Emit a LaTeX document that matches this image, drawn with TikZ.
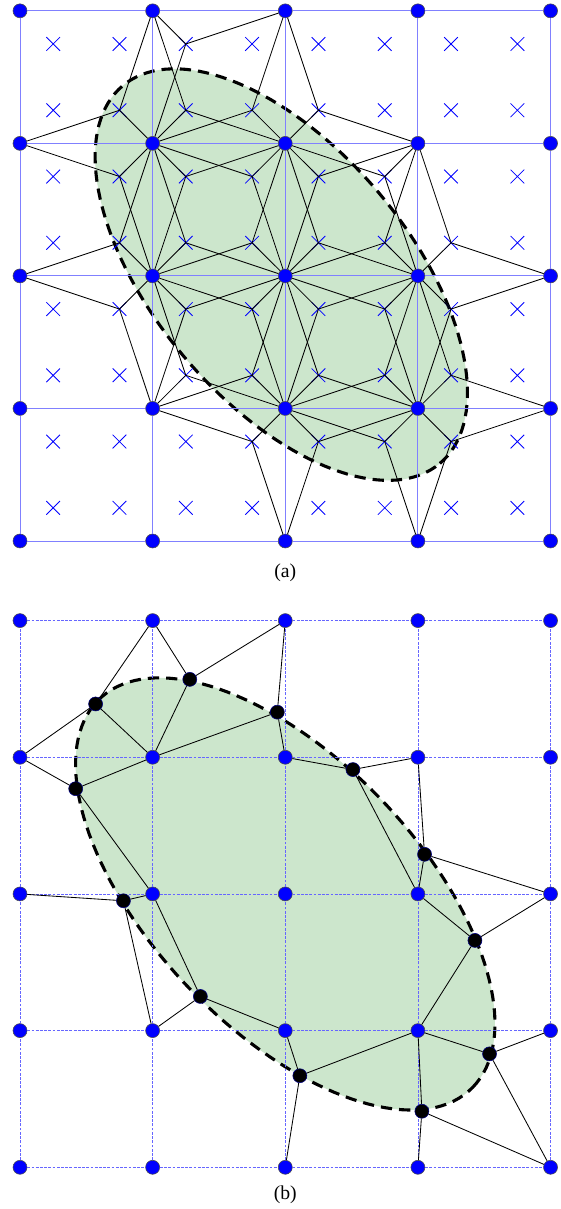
\documentclass[tikz,border=0pt]{standalone}
\usepackage{fontspec}
\setmainfont{Liberation Serif}
\usetikzlibrary{shapes.misc}

\tikzset{
  gnode/.style={circle, fill=blue, draw=black!70, line width=0.4pt, inner sep=0pt, minimum size=0.35cm},
  bnode/.style={circle, fill=black, draw=blue!50!black, line width=0.4pt, inner sep=0pt, minimum size=0.35cm},
  crs/.style={cross out, draw=blue, line width=0.6pt, inner sep=0pt, minimum size=0.32cm},
  gridln/.style={blue!50, line width=0.6pt},
  gridlnb/.style={blue!60, line width=0.5pt, dash pattern=on 2pt off 1pt},
  mesh/.style={black, line width=0.6pt},
  ellb/.style={fill=green!50!black, fill opacity=0.2, draw=black, line width=2.2pt, dash pattern=on 8pt off 5pt},
  lbl/.style={font=\fontsize{14}{16}\selectfont},
}

\begin{document}
\begin{tikzpicture}[x=0.025cm, y=0.025cm]
  \useasboundingbox (0,0) rectangle (560,1209);

  % (a) grid with sub-cell points
  \begin{scope}[shift={(20,668)}, x=3.315cm, y=3.3125cm]
    \draw[ellb] plot[domain=0:360, samples=145]
      ({1.97+1.1956*cos(\x)+0.7354*sin(\x)}, {2.01-1.4248*cos(\x)+0.6171*sin(\x)}) -- cycle;
    \foreach \i in {0,...,4}
      \foreach \j in {0,...,4}
        \node[gnode] (ga-\i-\j) at (\i,\j) {};
    \foreach \i [count=\ii] in {0,...,3}
      \foreach \j in {0,...,4} {
        \draw[gridln] (ga-\i-\j) -- (ga-\ii-\j);
        \draw[gridln] (ga-\j-\i) -- (ga-\j-\ii);
      }
    \foreach \k in {0,...,7}
      \foreach \l in {0,...,7}
        \node[crs] (xa-\k-\l) at ({0.25+0.5*\k},{0.25+0.5*\l}) {};
    % each active point to the three nearest corners of its cell
    \foreach \k/\l in {2/7, 1/6,2/6,3/6,4/6, 1/5,2/5,3/5,4/5,5/5,
                       1/4,2/4,3/4,4/4,5/4,6/4, 1/3,2/3,3/3,4/3,5/3,6/3,
                       2/2,3/2,4/2,5/2,6/2, 3/1,4/1,5/1,6/1} {
      \pgfmathtruncatemacro{\nx}{int(\k/2)+mod(\k,2)}
      \pgfmathtruncatemacro{\fx}{int(\k/2)+1-mod(\k,2)}
      \pgfmathtruncatemacro{\ny}{int(\l/2)+mod(\l,2)}
      \pgfmathtruncatemacro{\fy}{int(\l/2)+1-mod(\l,2)}
      \draw[mesh] (ga-\fx-\ny) -- (xa-\k-\l.center) -- (ga-\nx-\fy);
      \draw[mesh] (xa-\k-\l.center) -- (ga-\nx-\ny);
    }
    \node[lbl] (lbla) at (2,-0.24) {(a)};
  \end{scope}

  % (b) grid with boundary points
  \begin{scope}[shift={(20,41.7)}, x=3.315cm, y=3.416cm]
    \draw[ellb] plot[domain=0:360, samples=145]
      ({2+1.4142*cos(\x)+0.7071*sin(\x)}, {2-1.4142*cos(\x)+0.7071*sin(\x)}) -- cycle;
    \foreach \i in {0,...,4}
      \foreach \j in {0,...,4}
        \node[gnode] (gb-\i-\j) at (\i,\j) {};
    \foreach \i [count=\ii] in {0,...,3}
      \foreach \j in {0,...,4} {
        \draw[gridlnb] (gb-\i-\j) -- (gb-\ii-\j);
        \draw[gridlnb] (gb-\j-\i) -- (gb-\j-\ii);
      }
    \foreach \n/\p in {1/{(0.57,3.39)}, 2/{(1.28,3.57)}, 3/{(1.94,3.33)},
                       4/{(2.51,2.91)}, 5/{(3.05,2.29)}, 6/{(3.43,1.66)},
                       7/{(3.54,0.83)}, 8/{(3.03,0.41)}, 9/{(2.11,0.67)},
                       10/{(1.36,1.25)}, 11/{(0.78,1.95)}, 12/{(0.42,2.77)}}
      \node[bnode] (bd\n) at \p {};
    \foreach \a/\b in {gb-1-4/bd1, gb-1-4/bd2, bd2/gb-2-4, gb-0-3/bd1, gb-0-3/bd12,
                       bd1/gb-1-3, bd2/gb-1-3, gb-1-3/bd3, bd12/gb-1-3, bd12/gb-1-2,
                       gb-2-4/bd3, bd3/gb-2-3, gb-2-3/bd4, bd4/gb-3-3, bd4/gb-3-2,
                       gb-3-3/bd5, bd5/gb-4-2, bd5/gb-3-2, gb-0-2/bd11, bd11/gb-1-2,
                       bd11/gb-1-1, gb-1-2/bd10, bd10/gb-1-1, bd10/gb-2-1, gb-3-2/bd6,
                       bd6/gb-4-2, bd6/gb-3-1, gb-3-1/bd9, gb-2-1/bd9, bd9/gb-2-0,
                       gb-3-1/bd7, bd7/gb-4-1, bd7/gb-4-0, gb-3-1/bd8, bd8/gb-3-0,
                       bd8/gb-4-0}
      \draw[mesh] (\a) -- (\b);
    \node[lbl] (lblb) at (2,-0.2) {(b)};
  \end{scope}
\end{tikzpicture}
\end{document}
